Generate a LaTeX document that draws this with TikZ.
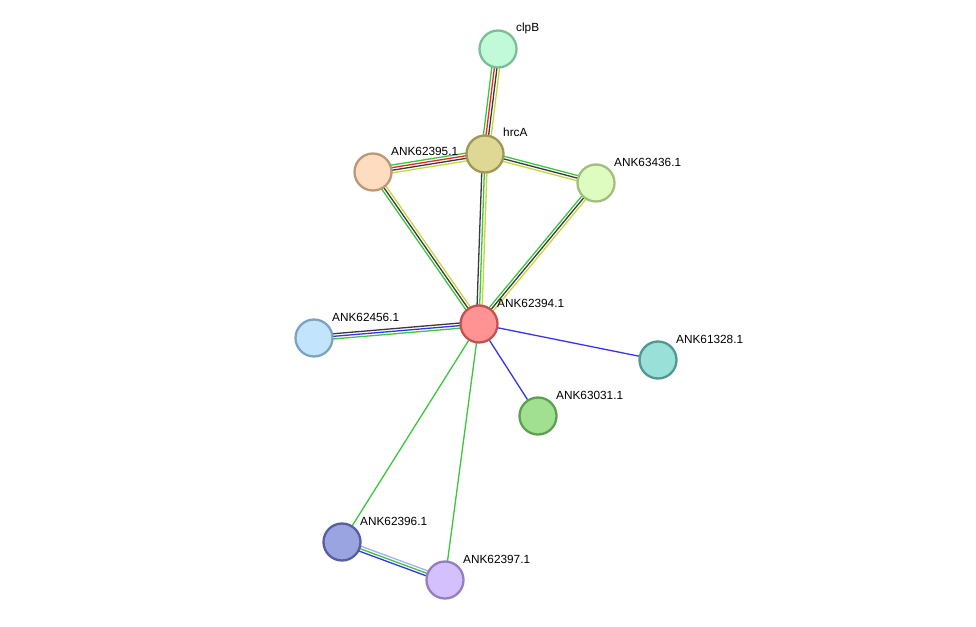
\documentclass[tikz,border=0pt]{standalone}
\usepackage{fontspec}
\setmainfont{Liberation Sans}
\usetikzlibrary{calc}
\pgfdeclarelayer{background}
\pgfsetlayers{background,main}
\definecolor{egreen}{HTML}{3CC63C}
\definecolor{ered}{HTML}{E82828}
\definecolor{eblack}{HTML}{3A3A3A}
\definecolor{eyellow}{HTML}{C4D83C}
\definecolor{eblue}{HTML}{3434EE}
\definecolor{elav}{HTML}{A8ACF0}
\tikzset{
  prot/.style={circle, minimum size=37pt, inner sep=0pt, line width=2.3pt},
  lbl/.style={anchor=west, font=\fontsize{11.8}{13}\selectfont, inner sep=0pt},
  edgeline/.style={line width=1.3pt},
}
\newcommand{\eline}[4]{\draw[#4, edgeline] ($(#1.center)!#3!90:(#2.center)$) -- ($(#2.center)!#3!-90:(#1.center)$);}
\begin{document}
\begin{tikzpicture}[x=1pt,y=-1pt]
\useasboundingbox (0,0) rectangle (976,626);
\node[prot, fill={rgb,255:red,192;green,250;blue,216}, draw={rgb,255:red,122;green,190;blue,150}] (clpB) at (498,49) {};
\node[prot, fill={rgb,255:red,222;green,216;blue,148}, draw={rgb,255:red,158;green,152;blue,88}] (hrcA) at (485,154) {};
\node[prot, fill={rgb,255:red,254;green,220;blue,192}, draw={rgb,255:red,186;green,152;blue,120}] (n95) at (373,172) {};
\node[prot, fill={rgb,255:red,222;green,252;blue,192}, draw={rgb,255:red,160;green,190;blue,124}] (n36) at (596,183) {};
\node[prot, fill={rgb,255:red,255;green,146;blue,146}, draw={rgb,255:red,192;green,82;blue,82}] (n94) at (479,324) {};
\node[prot, fill={rgb,255:red,194;green,228;blue,252}, draw={rgb,255:red,124;green,164;blue,190}] (n56) at (314,338) {};
\node[prot, fill={rgb,255:red,152;green,224;blue,216}, draw={rgb,255:red,80;green,152;blue,144}] (n28) at (658,360) {};
\node[prot, fill={rgb,255:red,160;green,224;blue,144}, draw={rgb,255:red,92;green,160;blue,80}] (n31) at (538,416) {};
\node[prot, fill={rgb,255:red,154;green,164;blue,224}, draw={rgb,255:red,86;green,94;blue,158}] (n96) at (342,542) {};
\node[prot, fill={rgb,255:red,212;green,192;blue,252}, draw={rgb,255:red,148;green,126;blue,192}] (n97) at (445,580) {};
\begin{pgfonlayer}{background}
% clpB - hrcA
\eline{clpB}{hrcA}{-3.9pt}{egreen}
\eline{clpB}{hrcA}{-1.3pt}{ered}
\eline{clpB}{hrcA}{1.3pt}{eblack}
\eline{clpB}{hrcA}{3.9pt}{eyellow}
% hrcA - 62395
\eline{hrcA}{n95}{-3.9pt}{egreen}
\eline{hrcA}{n95}{-1.3pt}{ered}
\eline{hrcA}{n95}{1.3pt}{eblack}
\eline{hrcA}{n95}{3.9pt}{eyellow}
% hrcA - 63436
\eline{hrcA}{n36}{2.6pt}{egreen}
\eline{hrcA}{n36}{0pt}{eblack}
\eline{hrcA}{n36}{-2.6pt}{eyellow}
% hrcA - 62394
\eline{hrcA}{n94}{-2.6pt}{eblack}
\eline{hrcA}{n94}{0pt}{egreen}
\eline{hrcA}{n94}{2.6pt}{eyellow}
% 62395 - 62394
\eline{n95}{n94}{-2.6pt}{egreen}
\eline{n95}{n94}{0pt}{eblack}
\eline{n95}{n94}{2.6pt}{eyellow}
% 63436 - 62394
\eline{n36}{n94}{-2.6pt}{egreen}
\eline{n36}{n94}{0pt}{eblack}
\eline{n36}{n94}{2.6pt}{eyellow}
% 62456 - 62394
\eline{n56}{n94}{2.6pt}{eblack}
\eline{n56}{n94}{0pt}{eblue}
\eline{n56}{n94}{-2.6pt}{egreen}
% single edges
\eline{n94}{n28}{0pt}{eblue}
\eline{n94}{n31}{0pt}{eblue}
\eline{n94}{n96}{0pt}{egreen}
\eline{n94}{n97}{0pt}{egreen}
% 62396 - 62397
\eline{n96}{n97}{2.6pt}{elav}
\eline{n96}{n97}{0pt}{egreen}
\eline{n96}{n97}{-2.6pt}{eblue}
\end{pgfonlayer}
\node[lbl] (lclpB) at (516,28) {clpB};
\node[lbl] (lhrcA) at (503,132) {hrcA};
\node[lbl] (l95) at (391,151) {ANK62395.1};
\node[lbl] (l36) at (614,162) {ANK63436.1};
\node[lbl] (l94) at (497,303) {ANK62394.1};
\node[lbl] (l56) at (332,317) {ANK62456.1};
\node[lbl] (l28) at (676,339) {ANK61328.1};
\node[lbl] (l31) at (556,395) {ANK63031.1};
\node[lbl] (l96) at (360,521) {ANK62396.1};
\node[lbl] (l97) at (463,559) {ANK62397.1};
\end{tikzpicture}
\end{document}
